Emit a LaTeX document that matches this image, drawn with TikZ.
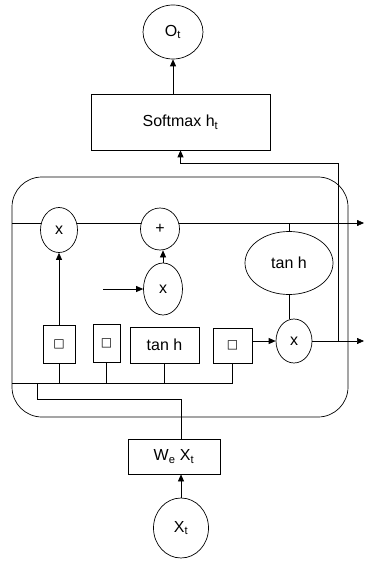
\documentclass[tikz,border=0pt]{standalone}
\usepackage{fontspec}
\setmainfont{Liberation Sans}
\newfontfamily\symfont{DejaVu Sans}
\usetikzlibrary{arrows.meta,shapes.geometric,backgrounds}

\tikzset{
  box/.style={draw,rectangle,inner sep=0pt},
  gate/.style={draw,ellipse,inner sep=0pt,fill=white},
  sig/.style={box,font=\fontsize{12}{13}\selectfont\symfont}
}

\begin{document}
\begin{tikzpicture}[>={Triangle[length=7pt,width=6pt]},x=1pt,y=-1pt,
    line width=0.7pt,font=\fontsize{16}{19}\selectfont]
            \useasboundingbox (0,0) rectangle (365,561);
            % output side
            \node [gate,minimum width=60,minimum height=54] (out) at (173,32) {O\textsubscript{t}};
            \node [box,minimum width=179,minimum height=56] (soft) at (180.5,122) {Softmax h\textsubscript{t}};
            % the cell
            \node [draw,rectangle,rounded corners=30pt,minimum width=336,minimum height=240] (cell) at (180,297) {};
            \coordinate (cin) at (12,223);
            \coordinate (cout) at (364,223);
            \node [gate,minimum width=37,minimum height=45] (fx) at (59,230) {x};
            \node [gate,minimum width=39,minimum height=42] (plus) at (160,229) {+};
            \node [gate,minimum width=39,minimum height=52] (ix) at (163,289) {x};
            \coordinate (iin) at (103,289);
            \node [gate,minimum width=88,minimum height=63] (th) at (289,263) {tan h};
            \node [gate,minimum width=36,minimum height=44] (ox) at (294,341) {x};
            \coordinate (hout) at (364,341);
            \coordinate (hj) at (338,341);
            % gates
            \node [sig,minimum width=32,minimum height=38] (g1) at (59,344) {□};
            \node [sig,minimum width=27,minimum height=38] (g2) at (106.5,343) {□};
            \node [box,minimum width=69,minimum height=36] (tb) at (164.5,345) {tan h};
            \node [sig,minimum width=39,minimum height=35] (g4) at (232.5,345.5) {□};
            \coordinate (bus) at (12,383);
            \coordinate (busj) at (37,383);
            % input side
            \node [box,minimum width=92,minimum height=35] (wx) at (174,456.5) {W\textsubscript{e} X\textsubscript{t}};
            \node [gate,minimum width=55,minimum height=60] (xt) at (181,528) {X\textsubscript{t}};
            \begin{scope}[on background layer]
                \draw [->] (cin) -- (cout);
            \end{scope}
            \draw [->] (out.south |- soft.north) -- (out.south);
            \draw [->] (hj) -- (hj |- 0,163) -| (soft.south);
            \draw (th.north |- cin) -- (th.north);
            \draw (th.south) -- (th.south |- ox.north);
            \draw [->] (iin) -- (ix.west);
            \draw [->] (ix.north) -- (ix.north |- plus.south);
            \draw [->] (g1.north) -- (fx.south);
            \draw [->] (g4.east |- ox) -- (ox.west);
            \draw [->] (ox.east) -- (hout);
            \draw (g1.south) -- (g1.south |- bus);
            \draw (g2.south) -- (g2.south |- bus);
            \draw (tb.south) -- (tb.south |- bus);
            \draw (g4.south) -- (g4.south |- bus);
            \draw (bus) -- (g4.south |- bus);
            \draw (busj) -- (busj |- 0,399) -| (wx.north -| xt.north);
            \draw [->] (xt.north) -- (xt.north |- wx.south);
        \end{tikzpicture}
\end{document}
